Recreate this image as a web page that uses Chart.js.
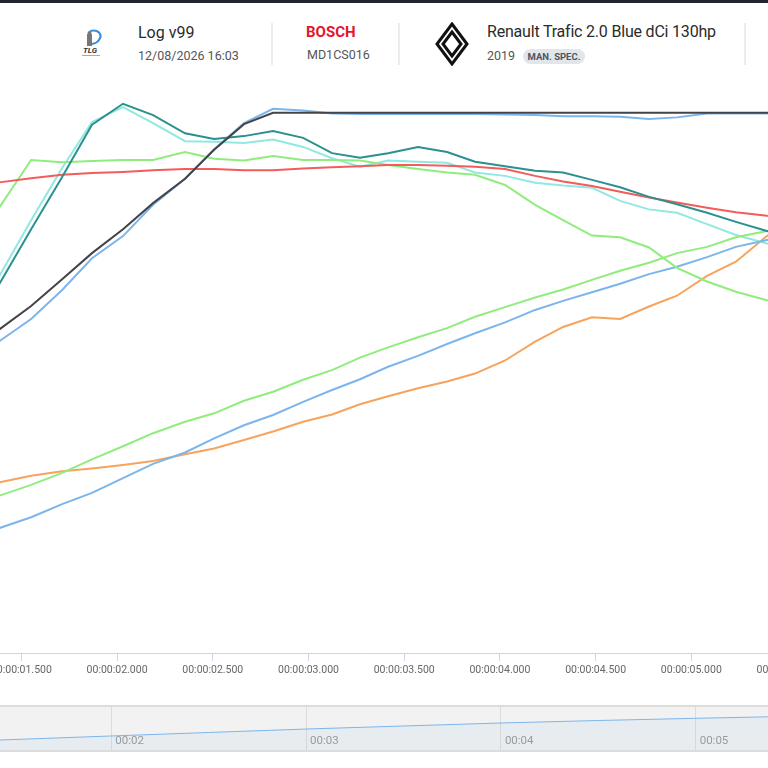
<!DOCTYPE html>
<html>
<head>
<meta charset="utf-8">
<title>Log v99</title>
<script src="https://cdn.jsdelivr.net/npm/chart.js@4.4.1/dist/chart.umd.min.js"></script>
<style>
  html, body { margin: 0; padding: 0; }
  body { width: 768px; height: 768px; overflow: hidden; position: relative; background: #fff; font-family: Roboto, "Noto Sans", sans-serif; }
  .topbar { position: absolute; left: 0; top: 0; width: 768px; height: 3px; background: #1f2430; }
  .txt { position: absolute; white-space: nowrap; line-height: 1; }
  .title { font-size: 16px; color: #2b2b2b; }
  .sub { font-size: 12.5px; color: #555; }
  .sep { position: absolute; top: 23px; width: 2px; height: 42px; background: #ececec; }
  .bosch { font-size: 15px; font-weight: 700; color: #e2162b; }
  .badge { position: absolute; left: 523px; top: 49px; width: 62px; height: 15px; border-radius: 8px; background: #e2e6ea;
           font-size: 9.5px; font-weight: 700; color: #4d5560; text-align: center; line-height: 15px; }
  #main-wrap { position: absolute; left: -140px; top: 85px; width: 1008px; height: 608px; }
  #nav-wrap { position: absolute; left: 0; top: 705px; width: 768px; height: 43px;
              border-top: 2px solid #dcdcdc; border-bottom: 2px solid #dcdcdc; background: #f2f2f2; }
  canvas { display: block; }
</style>
</head>
<body>
<div class="topbar"></div>

<svg style="position:absolute;left:78px;top:28px" width="26" height="30" viewBox="0 0 26 30">
  <path d="M12 3 C20 1 25 6 21 12 C19 15 15 16 12 16" fill="none" stroke="#3a8fd6" stroke-width="2.2"/>
  <rect x="9" y="6" width="5" height="12" fill="#777"/>
  <circle cx="11.5" cy="5" r="2" fill="#777"/>
  <text x="5" y="25" font-family="Roboto" font-size="8" font-weight="700" font-style="italic" fill="#333">TLG</text>
  <rect x="4" y="27" width="18" height="1" fill="#aaa"/>
</svg>
<div class="txt title" style="left:138px;top:25px">Log v99</div>
<div class="txt sub" style="left:138px;top:50px">12/08/2026 16:03</div>
<div class="sep" style="left:271px"></div>

<div class="txt bosch" style="left:306px;top:25px">BOSCH</div>
<div class="txt sub" style="left:307px;top:49px">MD1CS016</div>
<div class="sep" style="left:398px"></div>

<svg style="position:absolute;left:434px;top:22px" width="36" height="44" viewBox="0 0 36 44">
  <polygon points="18,2 33,22 18,42 3,22" fill="none" stroke="#111" stroke-width="3"/>
  <polygon points="18,10 27,22 18,34 9,22" fill="none" stroke="#111" stroke-width="3"/>
</svg>
<div class="txt title" style="left:487px;top:24px;letter-spacing:-0.2px">Renault Trafic 2.0 Blue dCi 130hp</div>
<div class="txt sub" style="left:487px;top:50px">2019</div>
<div class="badge">MAN. SPEC.</div>
<div class="sep" style="left:744px"></div>

<div id="main-wrap"><canvas id="main-chart" width="1008" height="608"></canvas></div>
<div id="nav-wrap"><canvas id="nav-chart" width="768" height="43"></canvas></div>

<script>
// sample times (s) of the log rows in view
const times = [1.237, 1.394, 1.551, 1.713, 1.869, 2.031, 2.188, 2.355, 2.507, 2.663, 2.815, 2.972, 3.123, 3.269, 3.416,
               3.572, 3.724, 3.870, 4.027, 4.184, 4.330, 4.481, 4.628, 4.779, 4.925, 5.082, 5.233, 5.395, 5.547];

// channel values, % of each channel's range
const engineSpeed = [53.3, 57.2, 61.1, 65.8, 70.4, 74.6, 79.2, 83.5, 88.6, 93.1, 95.1, 95.1, 95.1, 95.1, 95.1,
                     95.1, 95.1, 95.1, 95.1, 95.1, 95.1, 95.1, 95.1, 95.1, 95.1, 95.1, 95.1, 95.1, 95.1];
const boostSpecified = [51.2, 55.1, 58.8, 63.9, 69.5, 73.4, 78.9, 83.5, 88.7, 93.3, 95.8, 95.5, 95.0, 94.9, 94.9,
                        94.9, 94.9, 94.9, 94.8, 94.7, 94.5, 94.5, 94.4, 94.0, 94.3, 95.0, 95.0, 95.0, 95.0];
const railActual = [56.5, 65.5, 74.6, 83.8, 93.0, 96.7, 94.7, 91.5, 90.5, 91.0, 91.9, 90.7, 88.0, 87.2, 88.0,
                    89.1, 88.2, 86.5, 85.7, 84.9, 84.6, 83.3, 82.0, 80.3, 79.0, 77.5, 75.9, 74.3, 72.9];
const railSpecified = [57.7, 66.9, 76.2, 85.4, 93.5, 96.1, 93.3, 90.1, 90.0, 89.8, 90.4, 89.1, 87.1, 85.6, 86.7,
                       86.5, 86.3, 84.6, 84.0, 82.8, 82.3, 81.9, 79.6, 78.1, 77.5, 75.5, 73.6, 72.1, 71.0];
const torque = [82.2, 82.9, 83.6, 84.2, 84.5, 84.7, 85.0, 85.2, 85.2, 85.0, 85.0, 85.3, 85.5, 85.7, 85.9,
                85.9, 85.8, 85.6, 85.2, 84.0, 83.0, 82.2, 81.2, 80.2, 79.3, 78.4, 77.6, 77.0, 76.6];
const airMass = [71.0, 78.9, 86.8, 86.4, 86.6, 86.8, 86.8, 88.2, 87.0, 86.7, 87.5, 86.8, 86.8, 86.7, 85.9,
                 85.2, 84.6, 84.2, 82.4, 78.9, 76.2, 73.5, 73.2, 71.4, 67.8, 65.4, 63.6, 62.1, 61.1];
const vehicleSpeed = [26.1, 27.8, 29.6, 31.7, 34.1, 36.4, 38.7, 40.7, 42.2, 44.4, 46.0, 48.1, 49.8, 52.0, 53.8,
                      55.6, 57.2, 59.2, 60.9, 62.6, 64.0, 65.7, 67.3, 68.7, 70.4, 71.5, 73.2, 74.3, 75.5];
const rpmGear = [20.2, 22.1, 23.9, 26.2, 28.2, 30.8, 33.3, 35.3, 37.8, 40.1, 41.9, 44.2, 46.3, 48.2, 50.4,
                 52.3, 54.4, 56.3, 58.2, 60.4, 62.0, 63.5, 65.0, 66.7, 68.0, 69.7, 71.5, 72.7, 73.8];
const egt = [28.7, 30.1, 31.2, 32.0, 32.5, 33.1, 33.8, 35.0, 36.0, 37.5, 39.0, 40.7, 42.0, 43.8, 45.2,
             46.6, 47.8, 49.2, 51.5, 54.8, 57.4, 59.1, 58.8, 61.0, 62.9, 66.4, 68.9, 73.4, 77.1];

// navigator overview
const navTimes = [1.0, 1.5, 2.0, 2.5, 3.0, 3.5, 4.0, 4.5, 5.0, 5.5, 6.0];
const navValues = [16.0, 24.4, 32.6, 40.7, 48.8, 55.8, 62.8, 68.6, 73.7, 78.4, 82.5];

const pts = (xs, ys) => xs.map((x, i) => ({ x: x, y: ys[i] }));

function fmtTime(v) {
  const s = Math.floor(v + 1e-6);
  const ms = Math.round((v - s) * 1000);
  return '00:00:' + String(s).padStart(2, '0') + '.' + String(ms).padStart(3, '0');
}

const series = [
  { label: 'Engine speed', data: engineSpeed, color: '#434348' },
  { label: 'Rail pressure actual', data: railActual, color: '#2b908f' },
  { label: 'Torque', data: torque, color: '#f45b5b' },
  { label: 'Air mass', data: airMass, color: '#90ed7d' },
  { label: 'Vehicle speed', data: vehicleSpeed, color: '#90ed7d' },
  { label: 'Boost specified', data: boostSpecified, color: '#7cb5ec' },
  { label: 'RPM / gear', data: rpmGear, color: '#7cb5ec' },
  { label: 'Rail pressure specified', data: railSpecified, color: '#91e8e1' },
  { label: 'EGT', data: egt, color: '#f7a35c' }
];

new Chart(document.getElementById('main-chart'), {
  type: 'line',
  data: {
    datasets: series.map(s => ({
      label: s.label,
      data: pts(times, s.data),
      borderColor: s.color,
      borderWidth: 2,
      pointRadius: 0,
      tension: 0,
      fill: false
    }))
  },
  options: {
    responsive: false,
    animation: false,
    layout: { padding: 0 },
    plugins: { legend: { display: false }, tooltip: { enabled: false } },
    scales: {
      x: {
        type: 'linear',
        min: 0.657,
        max: 5.923,
        afterFit: scale => { scale.height = 40; },
        grid: { drawOnChartArea: false, color: '#ccd6eb', tickLength: 8 },
        border: { color: '#ccd6eb' },
        ticks: {
          stepSize: 0.5,
          includeBounds: false,
          autoSkip: false,
          maxRotation: 0,
          padding: 3,
          color: '#666',
          font: { family: 'Roboto', size: 10.5 },
          callback: v => fmtTime(v)
        }
      },
      y: { display: false, min: 0, max: 100 }
    }
  }
});

new Chart(document.getElementById('nav-chart'), {
  type: 'line',
  data: {
    datasets: [{
      label: 'Overview',
      data: pts(navTimes, navValues),
      borderColor: '#7cb5ec',
      borderWidth: 1,
      pointRadius: 0,
      tension: 0,
      fill: 'origin',
      backgroundColor: 'rgba(124,181,236,0.09)'
    }]
  },
  options: {
    responsive: false,
    animation: false,
    layout: { padding: 0 },
    plugins: { legend: { display: false }, tooltip: { enabled: false } },
    scales: {
      x: {
        type: 'linear',
        min: 1.4286,
        max: 5.3712,
        afterFit: scale => { scale.height = 0; },
        grid: { color: '#dcdcdc', drawTicks: false },
        border: { display: false },
        ticks: {
          stepSize: 1,
          includeBounds: false,
          autoSkip: false,
          maxRotation: 0,
          mirror: true,
          align: 'start',
          labelOffset: 4,
          padding: 2,
          color: '#999',
          font: { family: 'Roboto', size: 11.5 },
          callback: v => '00:' + String(Math.round(v)).padStart(2, '0')
        }
      },
      y: { display: false, min: 0, max: 100 }
    }
  }
});
</script>
</body>
</html>
